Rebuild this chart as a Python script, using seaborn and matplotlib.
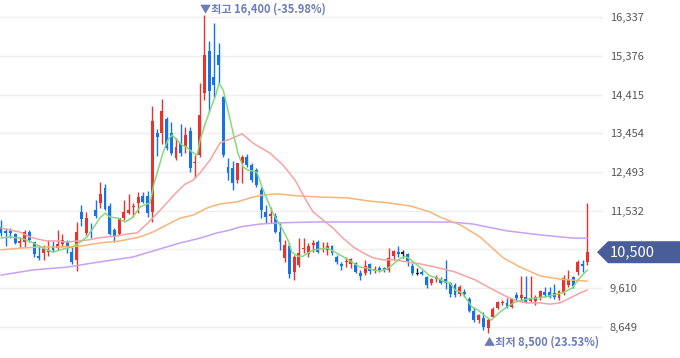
import matplotlib
matplotlib.use("Agg")
import matplotlib.pyplot as plt
import matplotlib.transforms as mtransforms
from matplotlib.patches import Polygon
import numpy as np
import seaborn as sns

# 일봉 시세 (시가, 고가, 저가, 종가)
opens = [11130, 11020, 11020, 10950, 10730, 10750, 11000, 10750, 10410, 10480,
         10500, 10650, 10600, 10700, 10750, 10500, 10300, 11500, 10980, 11000,
         11550, 11720, 12100, 11650, 11050, 10950, 11350, 11480, 11620, 11720,
         11900, 11900, 11500, 13460, 13460, 13810, 13460, 12840, 13210, 13110,
         13510, 12720, 12920, 14460, 15500, 14850, 15400, 14360, 12620, 12590,
         12290, 12720, 12870, 12670, 12540, 12050, 11500, 11400, 11400, 11000,
         10360, 10660, 10010, 10180, 10580, 10450, 10680, 10750, 10580, 10550,
         10650, 10380, 10210, 10260, 10210, 10230, 9980, 9980, 10210, 10030,
         10110, 10110, 10060, 10410, 10510, 10480, 10460, 10160, 9980, 10010,
         9880, 9730, 9830, 9830, 9830, 9730, 9680, 9460, 9510, 9340,
         9040, 8810, 8870, 8620, 8890, 9110, 9240, 9240, 9140, 9440,
         9360, 9390, 9290, 9290, 9360, 9510, 9510, 9490, 9360, 9490,
         9680, 9880, 10010, 10210, 10260]
highs = [11300, 11100, 11100, 10980, 10880, 11050, 11050, 10760, 10680, 10680,
         10800, 10780, 11050, 10950, 10800, 10630, 11250, 11670, 11500, 11230,
         11800, 12250, 12190, 11720, 11100, 11350, 11800, 11950, 11720, 12000,
         12000, 12020, 14130, 13560, 14310, 13860, 13740, 13340, 13690, 13610,
         13610, 12920, 14700, 16400, 15750, 16200, 15700, 14380, 12840, 12770,
         12720, 12920, 12940, 12720, 12590, 12120, 11670, 11620, 11470, 11230,
         10800, 10730, 10430, 10850, 10850, 10730, 10800, 10800, 10750, 10750,
         10680, 10430, 10260, 10380, 10360, 10260, 10060, 10310, 10230, 10160,
         10160, 10130, 10600, 10560, 10650, 10560, 10480, 10230, 10110, 10060,
         9910, 9860, 9930, 9880, 10310, 9760, 9730, 9680, 9580, 9390,
         9140, 8960, 9010, 8870, 9140, 9290, 9300, 9360, 9360, 9510,
         9910, 9910, 9910, 9440, 9560, 9630, 9630, 9710, 9560, 9930,
         10060, 9910, 10310, 10310, 11720]
lows = [10900, 10650, 10850, 10700, 10600, 10630, 10750, 10380, 10300, 10300,
        10400, 10500, 10550, 10630, 10480, 10200, 10030, 11150, 10930, 10850,
        11350, 11600, 11550, 10930, 10750, 10930, 11300, 11450, 11380, 11470,
        11720, 11380, 11250, 12890, 13190, 13040, 12910, 12790, 12890, 12960,
        12490, 12340, 12870, 14280, 13980, 14360, 14700, 12870, 12290, 12050,
        12220, 12220, 12620, 12240, 12120, 11350, 11230, 11230, 10980, 10560,
        10260, 9860, 9810, 10130, 10480, 10380, 10500, 10480, 10500, 10430,
        10430, 10210, 10060, 10130, 10110, 9980, 9810, 9930, 9960, 9980,
        10010, 10010, 10010, 10310, 10380, 10360, 10160, 9930, 9930, 9930,
        9610, 9680, 9760, 9710, 9580, 9390, 9390, 9410, 9390, 9010,
        8760, 8740, 8570, 8500, 8870, 9090, 9190, 9110, 9110, 9310,
        9260, 9240, 9260, 9190, 9310, 9390, 9360, 9340, 9310, 9440,
        9630, 9610, 9930, 10010, 10180]
closes = [10970, 10970, 10970, 10730, 10780, 11000, 10800, 10460, 10360, 10600,
          10550, 10550, 10700, 10800, 10630, 10260, 11000, 11320, 11350, 10980,
          11400, 11950, 11570, 10950, 10900, 11350, 11500, 11550, 11640, 11870,
          11750, 11470, 13760, 13360, 14010, 13090, 12960, 13110, 12960, 13410,
          12590, 12740, 13910, 15400, 14500, 14650, 15150, 12920, 12470, 12220,
          12720, 12870, 12670, 12290, 12170, 11550, 11370, 11450, 11000, 10750,
          10680, 9960, 10380, 10480, 10600, 10650, 10730, 10500, 10600, 10650,
          10480, 10260, 10160, 10280, 10330, 10010, 9910, 10160, 10030, 10080,
          10060, 10060, 10360, 10530, 10460, 10480, 10280, 9980, 9980, 9960,
          9680, 9830, 9880, 9730, 9730, 9460, 9440, 9630, 9460, 9040,
          8810, 8940, 8640, 8820, 9090, 9260, 9260, 9140, 9340, 9360,
          9440, 9240, 9360, 9390, 9530, 9440, 9390, 9390, 9530, 9860,
          9810, 9660, 10260, 10160, 10500]

# 이동평균선 (그림에서 읽은 지점)
ma5_idx = [0, 1.9, 4.0, 5.5, 6.8, 8.9, 11.0, 13.1, 15.2, 16.7, 18.2, 19.5, 20.9, 22.0,
           23.1, 24.7, 26.2, 27.7, 29.4, 30.9, 31.5, 32.4, 33.2, 34.3, 35.3, 36.2, 37.2,
           38.3, 39.3, 40.4, 41.5, 42.1, 43.1, 44.2, 45.3, 46.1, 47.0, 48.0, 49.1, 50.1,
           51.2, 52.2, 54.1, 55.2, 56.3, 57.5, 58.6, 59.6, 60.7, 61.5, 62.8, 63.9, 64.9,
           66.0, 67.5, 69.0, 70.2, 71.7, 73.2, 74.5, 75.9, 77.4, 78.7, 80.2, 81.6, 82.7,
           84.0, 85.4, 86.5, 88.0, 89.3, 90.7, 92.2, 93.5, 95.0, 96.0, 97.5, 98.6, 99.6,
           100.9, 102.4, 103.6, 105.5, 107.0, 108.7, 111.5, 115.1, 118.7, 120.8, 122.0, 124.0]
ma5_val = [10850, 10880, 10850, 10800, 10730, 10600, 10500, 10580, 10630, 10750, 10880,
           11100, 11350, 11470, 11370, 11350, 11250, 11350, 11620, 11700, 11720, 12220,
           12540, 12990, 13290, 13410, 13290, 13160, 13110, 12990, 12910, 13290, 13660,
           14030, 14360, 14700, 14530, 14030, 13460, 12960, 12620, 12540, 12490, 12120,
           11800, 11470, 11250, 11050, 10800, 10500, 10400, 10400, 10480, 10550, 10580,
           10600, 10530, 10430, 10330, 10230, 10130, 10110, 10060, 10030, 10080, 10180,
           10310, 10400, 10330, 10180, 10060, 9910, 9860, 9780, 9730, 9560, 9490, 9310,
           9140, 9060, 8910, 8810, 9010, 9140, 9260, 9340, 9390, 9490, 9610, 9810, 10060]

ma20_idx = [0, 1.9, 4.0, 6.1, 7.6, 9.7, 11.8, 14.0, 16.1, 18.2, 20.3, 22.4, 24.5, 26.6,
            28.8, 31.1, 34.1, 36.8, 38.9, 40.6, 42.1, 44.2, 46.3, 48.4, 51.0, 53.3, 56.9,
            59.6, 62.2, 64.7, 66.0, 68.1, 70.2, 72.3, 74.5, 76.6, 78.7, 80.8, 82.9, 85.9,
            88.6, 91.8, 96.0, 100.3, 103.4, 107.0, 109.1, 111.3, 114.0, 116.1, 118.2,
            120.3, 122.5, 124.0]
ma20_val = [11100, 11050, 11000, 10880, 10830, 10780, 10780, 10750, 10780, 10800, 10850,
            10880, 10900, 10950, 10980, 11230, 11600, 11950, 12190, 12290, 12470, 12790,
            13210, 13310, 13440, 13210, 12960, 12670, 12290, 11750, 11500, 11300, 11100,
            10850, 10630, 10480, 10360, 10310, 10310, 10260, 10210, 10130, 10010, 9810,
            9610, 9390, 9290, 9240, 9240, 9210, 9240, 9360, 9490, 9560]

ma60_idx = [0, 4.0, 8.2, 12.5, 16.7, 20.9, 25.2, 29.4, 32.1, 35.1, 37.9, 40.6, 43.6, 46.3,
            49.9, 53.3, 55.4, 58.4, 62.6, 67.5, 73.2, 78.0, 82.3, 86.5, 90.7, 92.9, 97.1,
            101.3, 106.2, 109.8, 114.0, 118.2, 124.0]
ma60_val = [10560, 10600, 10630, 10630, 10650, 10730, 10780, 10880, 11000, 11180, 11350,
            11420, 11600, 11700, 11750, 11870, 11920, 11950, 11900, 11870, 11850, 11770,
            11720, 11650, 11500, 11370, 11180, 10880, 10360, 10130, 9910, 9830, 9780]

ma120_idx = [0, 6.8, 14.0, 20.9, 27.9, 33.0, 37.9, 42.1, 45.7, 48.4, 50.6, 54.8, 59.0,
             66.0, 74.5, 88.6, 95.0, 99.8, 107.0, 114.0, 121.0, 124.0]
ma120_val = [9930, 10060, 10130, 10260, 10380, 10560, 10730, 10850, 10980, 11050, 11130,
             11200, 11230, 11250, 11250, 11250, 11250, 11200, 11030, 10930, 10850, 10850]

y_ticks = [16337, 15376, 14415, 13454, 12493, 11532, 10571, 9610, 8649]

UP = "#e8322e"
DOWN = "#1473e6"
FLAT = "#222222"
LABEL = "#6b7cb6"

sns.set_style("white")
plt.rcParams["font.family"] = ["Noto Sans CJK KR", "DejaVu Sans"]

fig = plt.figure(figsize=(6.8, 3.58), dpi=100)
ax = fig.add_axes([0, 0, 603 / 680, 1])

x = np.arange(len(closes))
o = np.array(opens)
c = np.array(closes)
colors = [UP if cc > oo else (DOWN if cc < oo else FLAT) for oo, cc in zip(o, c)]

# 꼬리
ax.vlines(x, lows, highs, colors=colors, lw=1, zorder=2)
# 몸통
body = np.maximum(np.abs(c - o), 28)
ax.bar(x, body, bottom=np.minimum(o, c) - np.where(c == o, 14, 0), width=0.62,
       color=colors, linewidth=0, zorder=3)

for idx, val, col in [(ma120_idx, ma120_val, "#c8a0f6"),
                      (ma60_idx, ma60_val, "#f8b57a"),
                      (ma20_idx, ma20_val, "#f6a3a3"),
                      (ma5_idx, ma5_val, "#86d97c")]:
    sns.lineplot(x=idx, y=val, color=col, lw=1.1, ax=ax, sort=False,
                 estimator=None, legend=False, zorder=4)

last = closes[-1]

ax.set_xlim(-0.21, 127.3)
ax.set_ylim(7871, 16767)
ax.set_xticks([])
ax.set_yticks(y_ticks)
# 현재가 표시에 가려지는 눈금 글자는 비움
ax.set_yticklabels(["" if abs(t - last) < 300 else f"{t:,}" for t in y_ticks])
ax.yaxis.tick_right()
ax.tick_params(axis="y", length=0, pad=5, labelsize=8, labelcolor="#555555")
ax.grid(axis="y", color="#efefef", lw=1, zorder=0)
ax.set_axisbelow(True)
for s in ax.spines.values():
    s.set_visible(False)

hi_i = int(np.argmax(highs))
lo_i = int(np.argmin(lows))
hi, lo = highs[hi_i], lows[lo_i]
hi_pct = (last - hi) / hi * 100
lo_pct = (last - lo) / lo * 100

ax.annotate(f"▼최고 {hi:,} ({hi_pct:.2f}%)", xy=(hi_i, hi), xytext=(-3, 4.5),
            textcoords="offset points", ha="left", va="center", fontsize=8,
            color=LABEL, fontweight="bold")
ax.annotate(f"▲최저 {lo:,} ({lo_pct:.2f}%)", xy=(lo_i, lo), xytext=(-3, -6.5),
            textcoords="offset points", ha="left", va="center", fontsize=8,
            color=LABEL, fontweight="bold")

# 현재가 표시
tr = mtransforms.blended_transform_factory(ax.transAxes, ax.transData)
h = 11 / 0.04024
tag = Polygon([(597 / 603, last), (608 / 603, last + h), (1.13, last + h),
               (1.13, last - h), (608 / 603, last - h)], closed=True,
              transform=tr, clip_on=False, facecolor="#4a5d9b", edgecolor="none",
              zorder=5)
ax.add_patch(tag)
ax.text(610 / 603, last, f"{last:,}", transform=tr, ha="left", va="center",
        fontsize=10.5, color="white", zorder=6)

fig.savefig("out.png", dpi=100)
